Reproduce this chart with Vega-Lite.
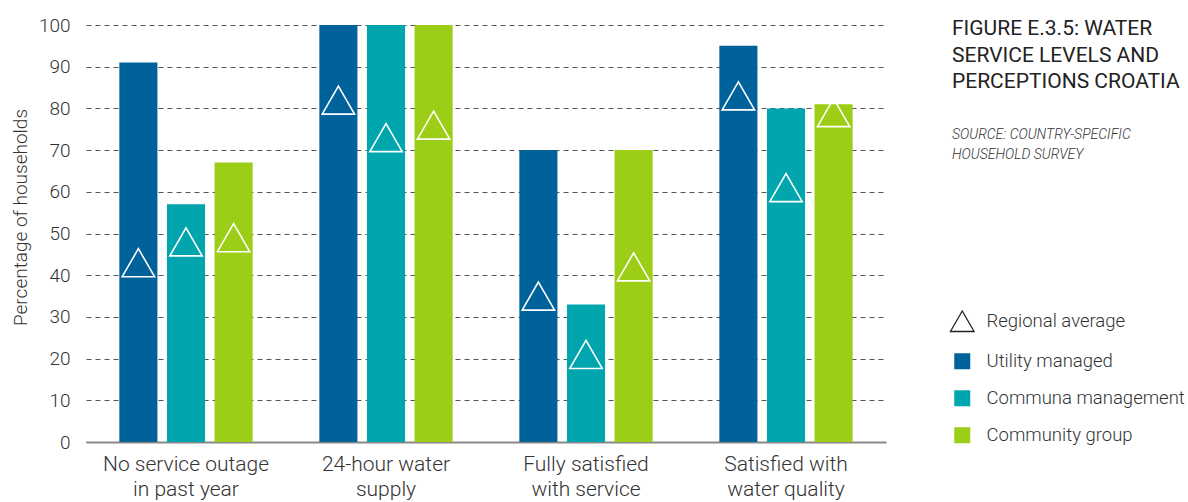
{
  "$schema": "https://vega.github.io/schema/vega-lite/v6.json",
  "width": 800,
  "height": 417,
  "autosize": {"type": "none"},
  "padding": {"left": 86, "top": 25, "right": 302, "bottom": 60},
  "background": "white",
  "title": {
    "text": ["FIGURE E.3.5: WATER", "SERVICE LEVELS AND", "PERCEPTIONS CROATIA"],
    "subtitle": ["SOURCE: COUNTRY-SPECIFIC", "HOUSEHOLD SURVEY"],
    "orient": "top",
    "anchor": "end",
    "frame": "group",
    "align": "left",
    "baseline": "top",
    "dx": 66,
    "dy": 0,
    "offset": -146,
    "font": "Roboto",
    "fontSize": 21,
    "fontWeight": 400,
    "color": "#222222",
    "lineHeight": 26.5,
    "subtitleFont": "Roboto",
    "subtitleFontSize": 14,
    "subtitleFontStyle": "italic",
    "subtitleFontWeight": 300,
    "subtitleColor": "#333333",
    "subtitleLineHeight": 20,
    "subtitlePadding": 36
  },
  "data": {
    "values": [
      {"category": "No service outage in past year", "group": "Utility managed", "value": 91, "average": 43},
      {"category": "No service outage in past year", "group": "Communa management", "value": 57, "average": 48},
      {"category": "No service outage in past year", "group": "Community group", "value": 67, "average": 49},
      {"category": "24-hour water supply", "group": "Utility managed", "value": 100, "average": 82},
      {"category": "24-hour water supply", "group": "Communa management", "value": 100, "average": 73},
      {"category": "24-hour water supply", "group": "Community group", "value": 100, "average": 76},
      {"category": "Fully satisfied with service", "group": "Utility managed", "value": 70, "average": 35},
      {"category": "Fully satisfied with service", "group": "Communa management", "value": 33, "average": 21},
      {"category": "Fully satisfied with service", "group": "Community group", "value": 70, "average": 42},
      {"category": "Satisfied with water quality", "group": "Utility managed", "value": 95, "average": 83},
      {"category": "Satisfied with water quality", "group": "Communa management", "value": 80, "average": 61},
      {"category": "Satisfied with water quality", "group": "Community group", "value": 81, "average": 79}
    ]
  },
  "encoding": {
    "x": {
      "field": "category",
      "type": "nominal",
      "sort": null,
      "scale": {"paddingInner": 0, "paddingOuter": 0},
      "axis": {
        "title": null,
        "labelAngle": 0,
        "labelExpr": "datum.label == 'No service outage in past year' ? ['No service outage', 'in past year'] : datum.label == '24-hour water supply' ? ['24-hour water', 'supply'] : datum.label == 'Fully satisfied with service' ? ['Fully satisfied', 'with service'] : ['Satisfied with', 'water quality']",
        "labelFont": "Roboto",
        "labelFontWeight": 300,
        "labelFontSize": 21,
        "labelColor": "#333333",
        "labelLineHeight": 25,
        "labelBaseline": "top",
        "labelPadding": 11,
        "ticks": false,
        "tickSize": 0,
        "domain": true,
        "domainColor": "#888888",
        "domainWidth": 2,
        "grid": false
      }
    },
    "xOffset": {
      "field": "group",
      "type": "nominal",
      "sort": ["Utility managed", "Communa management", "Community group"],
      "scale": {"paddingInner": 0.2, "paddingOuter": 0.7}
    }
  },
  "layer": [
    {
      "mark": {"type": "bar"},
      "encoding": {
        "y": {
          "field": "value",
          "type": "quantitative",
          "scale": {"domain": [0, 100], "nice": false},
          "axis": {
            "title": "Percentage of households",
            "values": [0, 10, 20, 30, 40, 50, 60, 70, 80, 90, 100],
            "grid": true,
            "gridDash": [5, 4],
            "gridColor": "#555555",
            "gridWidth": 1,
            "domain": false,
            "ticks": false,
            "tickSize": 0,
            "labelFont": "Roboto",
            "labelFontWeight": 300,
            "labelFontSize": 19,
            "labelColor": "#333333",
            "labelPadding": 16,
            "titleFont": "Roboto",
            "titleFontWeight": 300,
            "titleFontSize": 19,
            "titleColor": "#333333",
            "titleAngle": -90,
            "titleAlign": "center",
            "titleBaseline": "middle",
            "titleX": -66,
            "titleY": 192
          }
        },
        "color": {
          "field": "group",
          "type": "nominal",
          "scale": {
            "domain": ["Regional average", "Utility managed", "Communa management", "Community group"],
            "range": ["#ffffff", "#00629b", "#00a5ad", "#9ccd17"]
          },
          "legend": {
            "title": null,
            "orient": "none",
            "legendX": 867,
            "legendY": 287,
            "padding": 0,
            "symbolSize": 256,
            "symbolType": "square",
            "labelFont": "Roboto",
            "labelFontWeight": 300,
            "labelFontSize": 18.5,
            "labelColor": "#333333",
            "labelOffset": 15,
            "rowPadding": 15,
            "labelLimit": 300,
            "encode": {
              "symbols": {
                "update": {
                  "shape": {"signal": "datum.value === 'Regional average' ? 'triangle-up' : 'square'"},
                  "stroke": {"signal": "datum.value === 'Regional average' ? '#222222' : 'transparent'"},
                  "strokeWidth": {"value": 1.3},
                  "size": {"signal": "datum.value === 'Regional average' ? 560 : 256"},
                  "opacity": {"value": 1}
                }
              }
            }
          }
        }
      }
    },
    {
      "mark": {"type": "point", "shape": "triangle-up", "filled": false, "stroke": "white", "strokeWidth": 1.6, "size": 1050, "opacity": 1},
      "encoding": {
        "y": {"field": "average", "type": "quantitative"}
      }
    }
  ],
  "config": {
    "view": {"stroke": null},
    "font": "Roboto"
  }
}
